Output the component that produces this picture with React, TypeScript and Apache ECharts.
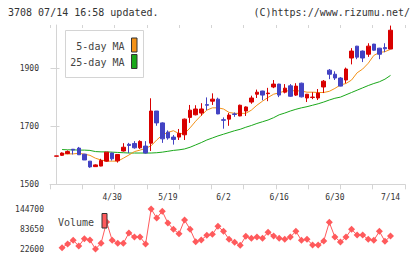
import React, { useEffect, useRef } from "react";
import * as echarts from "echarts";

// Trading days shown on the chart (2021)
const dates = [
  "4/15", "4/16", "4/19", "4/20", "4/21", "4/22", "4/23", "4/26", "4/27", "4/28", "4/30",
  "5/6", "5/7", "5/10", "5/11", "5/12", "5/13", "5/14", "5/17", "5/18", "5/19",
  "5/20", "5/21", "5/24", "5/25", "5/26", "5/27", "5/28", "5/31", "6/1", "6/2",
  "6/3", "6/4", "6/7", "6/8", "6/9", "6/10", "6/11", "6/14", "6/15", "6/16",
  "6/17", "6/18", "6/21", "6/22", "6/23", "6/24", "6/25", "6/28", "6/29", "6/30",
  "7/1", "7/2", "7/5", "7/6", "7/7", "7/8", "7/9", "7/12", "7/13", "7/14",
];

const open = [
  1597, 1600, 1606, 1621, 1625, 1604, 1580, 1561, 1563, 1580, 1608,
  1581, 1615, 1638, 1641, 1626, 1632, 1642, 1753, 1712, 1680,
  1663, 1663, 1671, 1731, 1740, 1746, 1775, 1787, 1794, 1723,
  1725, 1743, 1736, 1753, 1784, 1811, 1822, 1813, 1836, 1846,
  1818, 1840, 1808, 1849, 1798, 1800, 1798, 1836, 1894, 1880,
  1867, 1860, 1936, 1977, 1960, 1949, 1984, 1970, 1972, 1967,
];
const close = [
  1598, 1608, 1613, 1618, 1602, 1584, 1560, 1567, 1582, 1611, 1588,
  1603, 1628, 1634, 1626, 1648, 1608, 1753, 1712, 1657, 1660,
  1655, 1676, 1725, 1756, 1760, 1760, 1773, 1794, 1743, 1721,
  1739, 1741, 1773, 1767, 1798, 1818, 1808, 1815, 1846, 1808,
  1832, 1804, 1839, 1802, 1811, 1801, 1815, 1856, 1880, 1867,
  1839, 1898, 1960, 1939, 1936, 1977, 1963, 1949, 1968, 2032,
];
const low = [
  1597, 1598, 1604, 1603, 1601, 1584, 1557, 1560, 1562, 1578, 1582,
  1575, 1613, 1608, 1623, 1622, 1606, 1615, 1702, 1643, 1654,
  1637, 1653, 1653, 1712, 1738, 1737, 1756, 1774, 1742, 1692,
  1702, 1733, 1735, 1736, 1778, 1798, 1790, 1787, 1832, 1801,
  1814, 1802, 1805, 1800, 1784, 1794, 1791, 1815, 1863, 1860,
  1838, 1849, 1914, 1932, 1922, 1940, 1961, 1932, 1956, 1967,
];
const high = [
  1598, 1610, 1617, 1622, 1629, 1605, 1580, 1569, 1588, 1611, 1609,
  1604, 1642, 1643, 1649, 1652, 1649, 1797, 1753, 1714, 1686,
  1670, 1691, 1727, 1774, 1773, 1780, 1800, 1814, 1799, 1731,
  1746, 1748, 1775, 1769, 1806, 1827, 1823, 1833, 1860, 1847,
  1846, 1846, 1849, 1851, 1812, 1818, 1829, 1860, 1898, 1890,
  1870, 1903, 1970, 1978, 1962, 1987, 1985, 1971, 1987, 2048,
];

// 5-day and 25-day moving averages
const ma5 = [
  null, 1605, 1605, 1605, 1607, 1604, 1600, 1590, 1584, 1580, 1580,
  1580, 1590, 1601, 1613, 1618, 1624, 1633, 1653, 1670, 1679,
  1685, 1675, 1675, 1695, 1718, 1738, 1756, 1764, 1764, 1760,
  1748, 1745, 1745, 1745, 1756, 1773, 1787, 1800, 1811, 1816,
  1822, 1823, 1823, 1822, 1818, 1818, 1817, 1817, 1821, 1831,
  1843, 1848, 1860, 1885, 1898, 1918, 1945, 1955, 1958, 1966,
];
const ma25 = [
  null, 1620, 1619, 1619, 1618, 1618, 1617, 1613, 1612, 1612, 1611,
  1610, 1609, 1608, 1608, 1608, 1608, 1608, 1609, 1611, 1614,
  1617, 1619, 1622, 1628, 1636, 1644, 1653, 1660, 1667, 1673,
  1679, 1685, 1690, 1697, 1703, 1710, 1716, 1722, 1730, 1740,
  1746, 1753, 1759, 1764, 1768, 1773, 1778, 1784, 1791, 1797,
  1801, 1809, 1817, 1825, 1833, 1841, 1848, 1854, 1863, 1876,
];

const volume = [
  null, 26700, 37900, 49100, 31800, 54100, 50100, 22600, 39900, 105000, 49100,
  39900, 39900, 71400, 59200, 59200, 37900, 144700, 117200, 137600, 102000,
  82600, 69400, 111100, 82600, 45000, 50100, 64300, 67400, 91800, 76500,
  52100, 43000, 33800, 61300, 55200, 59200, 55200, 73500, 62300, 55200,
  52100, 59200, 76500, 49100, 52100, 34800, 34800, 47000, 104000, 59200,
  44000, 59200, 82600, 65300, 65300, 52100, 49100, 76500, 46000, 62300,
];

const priceTicks = [1500, 1700, 1900];
const volumeTicks = [22600, 83650, 144700];
const labelDates = ["4/30", "5/19", "6/2", "6/16", "6/30", "7/14"];

const RED = "#d80000";
const BLUE = "#4343c3";
const ORANGE = "#f39218";
const GREEN = "#1aa81a";
const VOL = "#ff5a5c";
const AXIS = "#d4d4d4";
const TEXT = "#333";
const MONO = '"DejaVu Sans Mono", monospace';

const X_MIN = -1.17;
const X_MAX = 62.6;
const tickPositions = Array.from({ length: 12 }, (_, k) => X_MIN + (k * (X_MAX - X_MIN)) / 11);
const labelIdx = labelDates.map((d) => dates.indexOf(d));

function text(x: number, y: number, s: string, align: string, size = 10, fill = TEXT) {
  return {
    type: "text",
    x,
    y,
    z: 100,
    style: {
      text: s,
      font: `${size}px ${MONO}`,
      fill,
      align,
      textAlign: align,
      verticalAlign: "middle",
      textVerticalAlign: "middle",
    },
  };
}

const plain = (v: number) => String(v);

export default function App() {
  const ref = useRef<HTMLDivElement>(null);

  useEffect(() => {
    if (!ref.current) return;
    const chart = echarts.init(ref.current, undefined, { renderer: "svg" });

    const candleData = dates.map((_, i) => [i, open[i], close[i], low[i], high[i]]);
    const pairs = (arr: (number | null)[]) =>
      arr.map((v, i) => (v == null ? null : [i, v])).filter((p) => p != null);

    const tickStyle = { color: AXIS, width: 1 };

    chart.setOption({
      animation: false,
      backgroundColor: "#fff",
      grid: [
        { left: 50, top: 25, width: 355, height: 159.3 },
        { left: 50, top: 209, width: 355, height: 40 },
      ],
      xAxis: [
        {
          type: "value",
          gridIndex: 0,
          min: X_MIN,
          max: X_MAX,
          axisLine: { show: true, lineStyle: tickStyle },
          axisTick: { show: true, customValues: tickPositions, length: 5, lineStyle: tickStyle },
          axisLabel: {
            show: true,
            customValues: labelIdx,
            formatter: (v: number) => dates[Math.round(v)] ?? "",
            fontFamily: MONO,
            fontSize: 8,
            color: TEXT,
            margin: 9,
          },
          splitLine: { show: false },
        },
        {
          type: "value",
          gridIndex: 0,
          min: X_MIN,
          max: X_MAX,
          axisLine: { show: false },
          axisTick: { show: true, inside: true, customValues: tickPositions, length: 3, lineStyle: tickStyle },
          axisLabel: { show: false },
          splitLine: { show: false },
        },
        {
          type: "value",
          gridIndex: 1,
          min: X_MIN,
          max: X_MAX,
          show: false,
          splitLine: { show: false },
        },
      ],
      yAxis: [
        {
          type: "value",
          gridIndex: 0,
          min: 1500,
          max: 2050,
          axisLine: { show: true, lineStyle: tickStyle },
          axisTick: { show: true, customValues: priceTicks, length: 6, lineStyle: tickStyle },
          axisLabel: {
            customValues: priceTicks,
            formatter: plain,
            fontFamily: MONO,
            fontSize: 8,
            color: TEXT,
            margin: 11,
          },
          splitLine: { show: false },
        },
        {
          type: "value",
          gridIndex: 0,
          min: 1500,
          max: 2050,
          position: "left",
          axisLine: { show: false },
          axisTick: { show: true, inside: true, customValues: priceTicks, length: 3, lineStyle: tickStyle },
          axisLabel: { show: false },
          splitLine: { show: false },
        },
        {
          type: "value",
          gridIndex: 1,
          min: 22600,
          max: 144700,
          axisLine: { show: false },
          axisTick: { show: false },
          axisLabel: {
            customValues: volumeTicks,
            formatter: plain,
            fontFamily: MONO,
            fontSize: 8,
            color: TEXT,
            margin: 6,
          },
          splitLine: { show: false },
        },
      ],
      series: [
        {
          type: "line",
          xAxisIndex: 0,
          yAxisIndex: 0,
          data: pairs(ma25),
          symbol: "none",
          lineStyle: { color: GREEN, width: 1 },
          z: 2,
        },
        {
          type: "line",
          xAxisIndex: 0,
          yAxisIndex: 0,
          data: pairs(ma5),
          symbol: "none",
          lineStyle: { color: ORANGE, width: 1 },
          z: 2,
        },
        {
          type: "candlestick",
          xAxisIndex: 0,
          yAxisIndex: 0,
          data: candleData,
          encode: { x: 0, y: [1, 2, 3, 4] },
          barWidth: 4,
          itemStyle: {
            color: RED,
            color0: BLUE,
            borderColor: RED,
            borderColor0: BLUE,
            borderWidth: 1,
          },
          z: 3,
        },
        {
          type: "line",
          xAxisIndex: 2,
          yAxisIndex: 2,
          data: pairs(volume),
          symbol: "diamond",
          symbolSize: 7,
          clip: false,
          itemStyle: { color: VOL },
          lineStyle: { color: VOL, width: 1 },
          z: 2,
        },
      ],
      graphic: [
        text(8, 12.5, "3708 07/14 16:58 updated.", "left"),
        text(410, 12.5, "(C)https://www.rizumu.net/", "right"),
        {
          type: "rect",
          z: 100,
          shape: { x: 65.5, y: 30.5, width: 78, height: 47 },
          style: { fill: "#fff", stroke: "#d4d4d4", lineWidth: 1 },
        },
        text(124.5, 46, "5-day MA", "right", 10, "#444"),
        {
          type: "rect",
          z: 101,
          shape: { x: 131.5, y: 38, width: 5.5, height: 14 },
          style: { fill: ORANGE, stroke: "#333", lineWidth: 1 },
        },
        text(124.5, 62.8, "25-day MA", "right", 10, "#444"),
        {
          type: "rect",
          z: 101,
          shape: { x: 131.5, y: 54.5, width: 5.5, height: 14 },
          style: { fill: GREEN, stroke: "#333", lineWidth: 1 },
        },
        text(58, 222, "Volume", "left", 10, "#444"),
        {
          type: "rect",
          z: 101,
          shape: { x: 102, y: 213.5, width: 5, height: 14.5 },
          style: { fill: VOL, stroke: "#333", lineWidth: 1 },
        },
      ],
    });

    return () => chart.dispose();
  }, []);

  return (
    <div
      ref={ref}
      style={{ position: "absolute", left: 0, top: 0, width: 420, height: 259 }}
    />
  );
}
